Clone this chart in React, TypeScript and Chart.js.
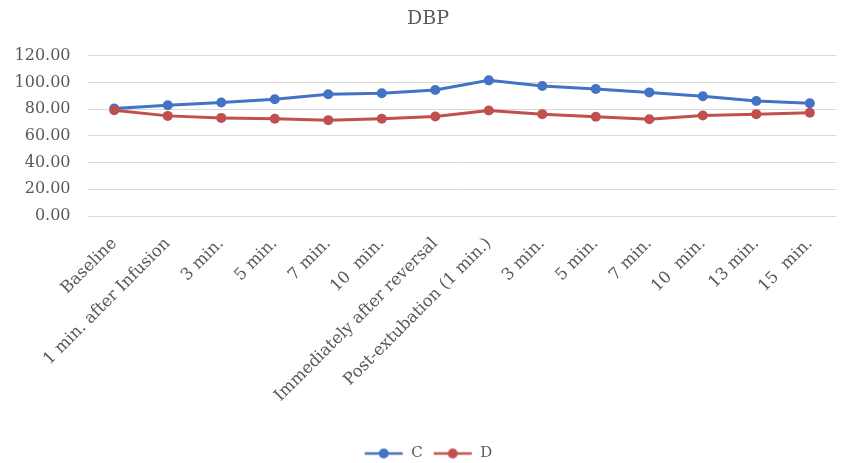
import React, { useEffect, useRef } from "react";
import { Chart, registerables } from "chart.js";

Chart.register(...registerables);

const categories = [
  "Baseline",
  "1 min. after Infusion",
  "3 min.",
  "5 min.",
  "7 min.",
  "10  min.",
  "Immediately after reversal",
  "Post-extubation (1 min.)",
  "3 min.",
  "5 min.",
  "7 min.",
  "10  min.",
  "13 min.",
  "15  min.",
];

const seriesC = [80.5, 83.0, 85.0, 87.4, 91.2, 91.9, 94.4, 101.6, 97.4, 95.1, 92.6, 89.7, 86.2, 84.5];
const seriesD = [79.2, 75.0, 73.5, 72.8, 71.8, 72.8, 74.5, 79.0, 76.3, 74.3, 72.5, 75.3, 76.3, 77.3];

const yTicks = [0, 20, 40, 60, 80, 100, 120];

const BLUE = "#4472C4";
const RED = "#C0504D";
const TEXT = "#595959";
const FONT = "'DejaVu Serif', 'Liberation Serif', serif";

function legendIcon(color: string) {
  const c = document.createElement("canvas");
  c.width = 40;
  c.height = 14;
  const ctx = c.getContext("2d")!;
  ctx.strokeStyle = color;
  ctx.lineWidth = 2.5;
  ctx.beginPath();
  ctx.moveTo(1, 7);
  ctx.lineTo(39, 7);
  ctx.stroke();
  ctx.fillStyle = color;
  ctx.beginPath();
  ctx.arc(20, 7, 5, 0, Math.PI * 2);
  ctx.fill();
  return c;
}

export default function App() {
  const ref = useRef<HTMLCanvasElement>(null);

  useEffect(() => {
    if (!ref.current) return;
    const icons = [legendIcon(BLUE), legendIcon(RED)];
    const chart = new Chart(ref.current, {
      type: "line",
      data: {
        labels: categories,
        datasets: [
          {
            label: "C",
            data: seriesC,
            order: 1,
            borderColor: BLUE,
            backgroundColor: BLUE,
            borderWidth: 3,
            pointRadius: 5,
            pointBorderWidth: 0,
            pointBackgroundColor: BLUE,
          },
          {
            label: "D",
            data: seriesD,
            order: 0,
            borderColor: RED,
            backgroundColor: RED,
            borderWidth: 3,
            pointRadius: 5,
            pointBorderWidth: 0,
            pointBackgroundColor: RED,
          },
        ],
      },
      options: {
        responsive: false,
        animation: false,
        layout: { padding: { left: 0, right: -14, top: 0, bottom: -8 } },
        plugins: {
          title: {
            display: true,
            text: "DBP",
            color: TEXT,
            font: { family: FONT, size: 19, weight: "normal" },
            padding: { top: 8, bottom: 25 },
          },
          legend: {
            position: "bottom",
            labels: {
              color: TEXT,
              font: { family: FONT, size: 15 },
              usePointStyle: true,
              pointStyleWidth: 40,
              padding: 10,
              boxPadding: 0,
              sort: (a: any, b: any) => a.datasetIndex - b.datasetIndex,
              generateLabels: (ch: any) => {
                const items = Chart.defaults.plugins.legend.labels.generateLabels(ch);
                return items.map((it: any) => ({ ...it, pointStyle: icons[it.datasetIndex] }));
              },
            },
          },
          tooltip: { enabled: false },
        },
        scales: {
          x: {
            offset: true,
            grid: { display: false, drawTicks: false },
            border: { display: false },
            ticks: {
              color: TEXT,
              font: { family: FONT, size: 16.5 },
              autoSkip: false,
              maxRotation: 45,
              minRotation: 45,
              padding: 18,
            },
            afterFit: (s: any) => {
              s.height = 220;
            },
          },
          y: {
            min: 0,
            max: 120,
            grid: { color: "#D9D9D9", drawTicks: false, lineWidth: 1 },
            border: { display: false },
            afterBuildTicks: (s: any) => {
              s.ticks = yTicks.map((v) => ({ value: v }));
            },
            ticks: {
              color: TEXT,
              font: { family: FONT, size: 16 },
              padding: 17,
              callback: (v: any) => Number(v).toFixed(2),
            },
            afterFit: (s: any) => {
              s.width = 87.5;
            },
          },
        },
      },
    });
    return () => chart.destroy();
  }, []);

  return (
    <div style={{ position: "absolute", left: 0, top: 0, width: 842, height: 463, background: "#fff" }}>
      <canvas ref={ref} width={842} height={463} />
    </div>
  );
}
